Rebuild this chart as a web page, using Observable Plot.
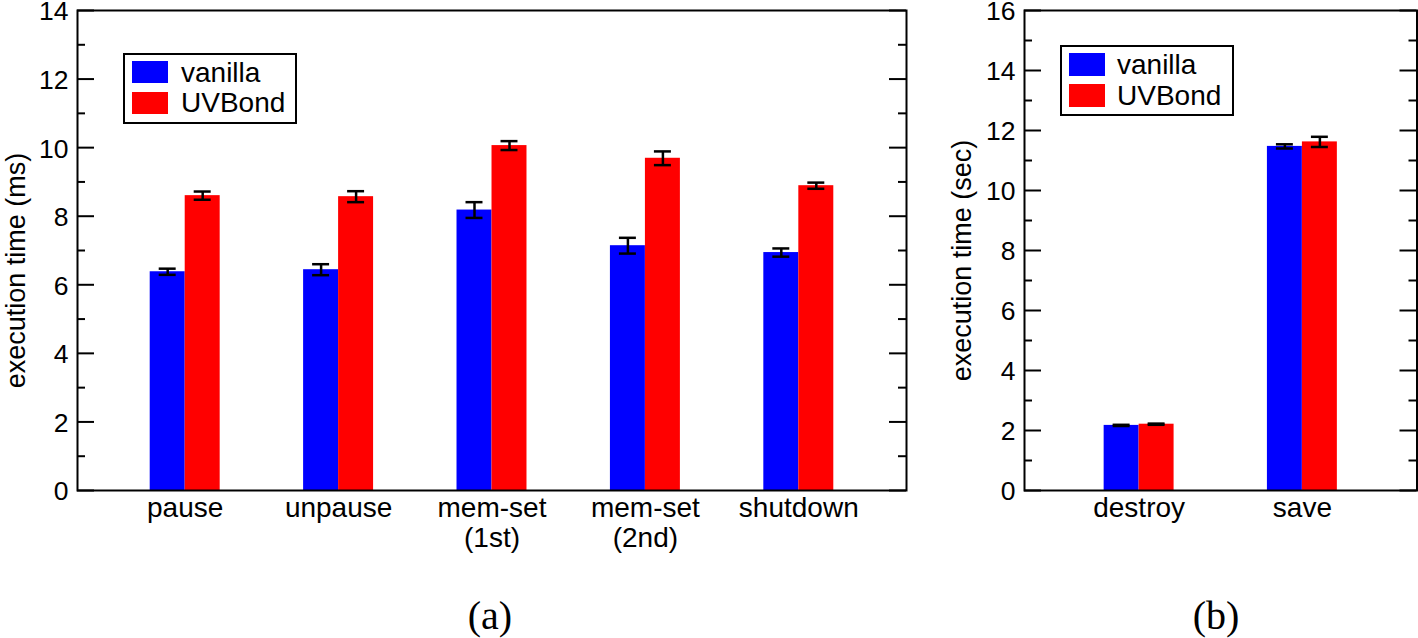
<!DOCTYPE html>
<html>
<head>
<meta charset="utf-8">
<script src="https://cdn.jsdelivr.net/npm/d3@7"></script>
<script src="https://cdn.jsdelivr.net/npm/@observablehq/plot@0.6"></script>
<style>
  html, body { margin: 0; padding: 0; background: #fff; }
  #root { position: relative; width: 1418px; height: 638px; overflow: hidden; font-family: "Liberation Sans", Arial, sans-serif; }
  .panel { position: absolute; top: 0; }
  .legend { position: absolute; border: 2px solid #000; background: #fff; box-sizing: border-box; }
  .sw { position: absolute; width: 36px; height: 22px; }
  .lt { position: absolute; font-size: 28px; line-height: 28px; white-space: nowrap; color: #000; }
  .cap { position: absolute; font-family: "Liberation Serif", "DejaVu Serif", serif; font-size: 40px; line-height: 40px; transform: translateX(-50%); }
</style>
</head>
<body>
<div id="root"></div>
<script>
// ---- Data ----
const seriesNames = ["vanilla", "UVBond"];
const seriesColors = ["#0000ff", "#ff0000"];

// Panel (a): execution time (ms)
const categoriesA = ["pause", "unpause", "mem-set (1st)", "mem-set (2nd)", "shutdown"];
const tickLabelsA = ["pause", "unpause", "mem-set\n(1st)", "mem-set\n(2nd)", "shutdown"];
const vanillaA = [6.38, 6.44, 8.18, 7.14, 6.94];
const vanillaErrA = [0.09, 0.16, 0.23, 0.23, 0.12];
const uvbondA = [8.6, 8.57, 10.06, 9.69, 8.89];
const uvbondErrA = [0.12, 0.16, 0.13, 0.2, 0.09];
const yLabelA = "execution time (ms)";
const yMaxA = 14;

// Panel (b): execution time (sec)
const categoriesB = ["destroy", "save"];
const tickLabelsB = ["destroy", "save"];
const vanillaB = [2.17, 11.47];
const vanillaErrB = [0.02, 0.07];
const uvbondB = [2.21, 11.62];
const uvbondErrB = [0.02, 0.17];
const yLabelB = "execution time (sec)";
const yMaxB = 16;

const captions = ["(a)", "(b)"];

// ---- Drawing ----
const root = document.getElementById("root");

function rows(cats, vals, errs) {
  return cats.map((c, i) => ({cat: c, v: vals[i], lo: vals[i] - errs[i], hi: vals[i] + errs[i]}));
}

function panel(cfg) {
  const {cats, labels, van, vanErr, uvb, uvbErr, yMax, yLabel, width, height, ml, mr, mt, mb, padIn, padOut, half, labelDy} = cfg;
  const fw = width - ml - mr;
  const major = d3.range(0, yMax + 1, 2);
  const minor = d3.range(1, yMax, 2);
  const dV = rows(cats, van, vanErr);
  const dU = rows(cats, uvb, uvbErr);
  const fmt = new Map(cats.map((c, i) => [c, labels[i]]));
  const errMarks = (data, dx) => [
    Plot.ruleX(data, {x: "cat", y1: "lo", y2: "hi", dx, stroke: "#000", strokeWidth: 2.5}),
    Plot.tickY(data, {x: "cat", y: "hi", dx, stroke: "#000", strokeWidth: 2.5, insetLeft: 9, insetRight: 9}),
    Plot.tickY(data, {x: "cat", y: "lo", dx, stroke: "#000", strokeWidth: 2.5, insetLeft: 9, insetRight: 9})
  ];
  return Plot.plot({
    width, height,
    marginLeft: ml, marginRight: mr, marginTop: mt, marginBottom: mb,
    style: {fontFamily: "Liberation Sans, Arial, sans-serif", fontSize: "26px", background: "transparent", overflow: "visible"},
    x: {type: "band", domain: cats, paddingInner: padIn, paddingOuter: padOut, round: false, axis: null},
    y: {domain: [0, yMax], axis: null},
    marks: [
      Plot.barY(dV, {x: "cat", y: "v", dx: -half, fill: seriesColors[0]}),
      Plot.barY(dU, {x: "cat", y: "v", dx: half, fill: seriesColors[1]}),
      ...errMarks(dV, -half),
      ...errMarks(dU, half),
      // inward ticks, left and right
      Plot.ruleY(major, {stroke: "#000", strokeWidth: 2, insetRight: fw - 17}),
      Plot.ruleY(minor, {stroke: "#000", strokeWidth: 2, insetRight: fw - 8}),
      Plot.ruleY(major, {stroke: "#000", strokeWidth: 2, insetLeft: fw - 17}),
      Plot.ruleY(minor, {stroke: "#000", strokeWidth: 2, insetLeft: fw - 8}),
      Plot.frame({stroke: "#000", strokeWidth: 2}),
      Plot.axisY({ticks: major, tickSize: 0, tickPadding: 9, dy: 1.5, fontSize: 26.5, label: null, tickFormat: d => String(d)}),
      Plot.axisX({tickSize: 0, tickPadding: 6, fontSize: 28, lineHeight: 1.05, label: null, tickFormat: d => fmt.get(d)}),
      Plot.text([yLabel], {frameAnchor: "left", text: d => d, rotate: -90, dx: cfg.labelDx, dy: labelDy, fontSize: 27, textAnchor: "middle", lineAnchor: "middle", fill: "#000"})
    ]
  });
}

const svgA = panel({
  cats: categoriesA, labels: tickLabelsA, van: vanillaA, vanErr: vanillaErrA, uvb: uvbondA, uvbErr: uvbondErrA,
  yMax: yMaxA, yLabel: yLabelA, width: 920, height: 560, ml: 77, mr: 14, mt: 10, mb: 70,
  padIn: 0.772, padOut: 0.588, half: 17.5, labelDx: -61, labelDy: 20
});
const divA = document.createElement("div");
divA.className = "panel"; divA.style.left = "0px";
divA.appendChild(svgA);
root.appendChild(divA);

const svgB = panel({
  cats: categoriesB, labels: tickLabelsB, van: vanillaB, vanErr: vanillaErrB, uvb: uvbondB, uvbErr: uvbondErrB,
  yMax: yMaxB, yLabel: yLabelB, width: 478, height: 560, ml: 84, mr: 1.5, mt: 10, mb: 70,
  padIn: 0.786, padOut: 0.595, half: 17.5, labelDx: -62, labelDy: 10
});
const divB = document.createElement("div");
divB.className = "panel"; divB.style.left = "940px";
divB.appendChild(svgB);
root.appendChild(divB);

// Legends (inside plot areas)
function legend(left, top, w, h, swTops, swLeft, txtLeft, txtBaselines, swH) {
  const box = document.createElement("div");
  box.className = "legend";
  Object.assign(box.style, {left: left + "px", top: top + "px", width: w + "px", height: h + "px"});
  root.appendChild(box);
  seriesNames.forEach((name, i) => {
    const sw = document.createElement("div");
    sw.className = "sw";
    Object.assign(sw.style, {left: swLeft + "px", top: swTops[i] + "px", height: swH + "px", background: seriesColors[i]});
    root.appendChild(sw);
    const t = document.createElement("div");
    t.className = "lt";
    t.textContent = name;
    Object.assign(t.style, {left: txtLeft + "px", top: (txtBaselines[i] - 23.7) + "px"});
    root.appendChild(t);
  });
}
legend(123, 53, 174, 71, [61, 92], 132, 181, [83, 113], 22);
legend(1060, 45, 174, 71, [53, 84], 1069, 1117, [75, 106], 23);

// Captions
[[490, captions[0]], [1216, captions[1]]].forEach(([cx, txt]) => {
  const c = document.createElement("div");
  c.className = "cap";
  c.textContent = txt;
  Object.assign(c.style, {left: cx + "px", top: "596px"});
  root.appendChild(c);
});
</script>
</body>
</html>
